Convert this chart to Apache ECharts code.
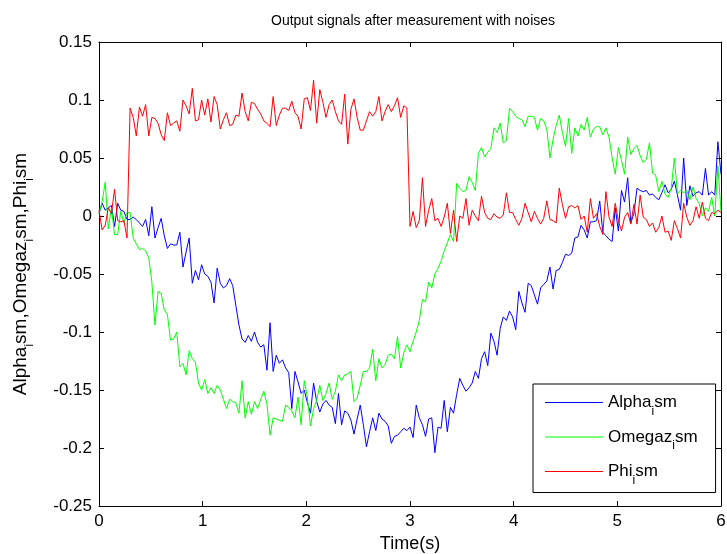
<!DOCTYPE html>
<html>
<head>
<meta charset="utf-8">
<script src="https://cdn.jsdelivr.net/npm/echarts@6/dist/echarts.min.js"></script>
<style>
  html, body { margin: 0; padding: 0; background: #fff; }
  #chart { width: 727px; height: 554px; }
</style>
</head>
<body>
<div id="chart"></div>
<script>
// Sampling grid: t = 0 : 0.03 : 6 (201 samples)
const T_START = 0;
const T_STEP = 0.03;

const alphaIsm = [
  0.002, 0.011, 0.005, 0.007, 0.009, -0.009, 0.011, 0.005, 0.004, -0.003,
  -0.003, -0.001, -0.003, -0.006, -0.009, -0.003, -0.017, 0.008, -0.019, -0.010,
  -0.002, -0.017, -0.028, -0.024, -0.025, -0.025, -0.014, -0.044, -0.031, -0.019,
  -0.058, -0.047, -0.055, -0.042, -0.050, -0.052, -0.057, -0.075, -0.045, -0.058,
  -0.062, -0.060, -0.054, -0.060, -0.077, -0.094, -0.106, -0.109, -0.103, -0.108,
  -0.100, -0.109, -0.113, -0.111, -0.133, -0.092, -0.134, -0.120, -0.127, -0.124,
  -0.131, -0.135, -0.166, -0.134, -0.143, -0.153, -0.150, -0.161, -0.170, -0.144,
  -0.160, -0.169, -0.162, -0.159, -0.163, -0.165, -0.179, -0.153, -0.180, -0.168,
  -0.170, -0.176, -0.188, -0.175, -0.163, -0.180, -0.199, -0.186, -0.174, -0.185,
  -0.170, -0.175, -0.177, -0.181, -0.196, -0.190, -0.189, -0.186, -0.183, -0.185,
  -0.182, -0.191, -0.163, -0.174, -0.180, -0.190, -0.175, -0.174, -0.204, -0.182,
  -0.183, -0.159, -0.186, -0.165, -0.170, -0.154, -0.140, -0.146, -0.151, -0.148,
  -0.144, -0.134, -0.140, -0.123, -0.117, -0.129, -0.101, -0.108, -0.120, -0.097,
  -0.087, -0.090, -0.082, -0.087, -0.098, -0.065, -0.075, -0.083, -0.058, -0.060,
  -0.068, -0.076, -0.062, -0.059, -0.056, -0.044, -0.063, -0.047, -0.046, -0.040,
  -0.033, -0.034, -0.032, -0.019, -0.018, -0.008, -0.012, -0.019, -0.005, -0.005,
  -0.004, 0.013, -0.014, -0.017, -0.020, -0.022, 0.007, -0.013, 0.022, 0.012,
  0.033, -0.006, 0.002, 0.024, 0.022, 0.021, 0.022, 0.018, 0.019, 0.016,
  0.014, 0.020, 0.027, 0.020, 0.023, 0.030, 0.018, 0.005, 0.050, 0.009,
  0.026, 0.017, 0.020, 0.021, 0.018, 0.041, 0.018, 0.021, 0.018, 0.064,
  0.036
];

const omegazIsm = [
  0.002, 0.012, 0.029, -0.011, 0.007, -0.016, -0.016, 0.004, -0.006, 0.003,
  0.003, -0.019, -0.024, -0.029, -0.028, -0.030, -0.036, -0.057, -0.094, -0.065,
  -0.067, -0.081, -0.085, -0.107, -0.106, -0.100, -0.130, -0.127, -0.137, -0.116,
  -0.123, -0.126, -0.144, -0.150, -0.141, -0.153, -0.148, -0.153, -0.146, -0.150,
  -0.158, -0.166, -0.158, -0.160, -0.161, -0.170, -0.142, -0.174, -0.160, -0.171,
  -0.160, -0.166, -0.158, -0.151, -0.162, -0.189, -0.174, -0.175, -0.176, -0.177,
  -0.163, -0.165, -0.168, -0.174, -0.156, -0.180, -0.142, -0.156, -0.181, -0.166,
  -0.159, -0.146, -0.159, -0.153, -0.144, -0.158, -0.151, -0.137, -0.142, -0.137,
  -0.136, -0.134, -0.160, -0.157, -0.146, -0.134, -0.134, -0.131, -0.115, -0.142,
  -0.123, -0.131, -0.128, -0.120, -0.119, -0.123, -0.104, -0.131, -0.118, -0.111,
  -0.117, -0.108, -0.100, -0.090, -0.072, -0.074, -0.057, -0.062, -0.050, -0.045,
  -0.039, -0.030, -0.023, -0.016, -0.022, 0.028, 0.024, 0.021, 0.022, 0.034,
  0.029, 0.022, 0.054, 0.059, 0.051, 0.055, 0.058, 0.076, 0.072, 0.080,
  0.063, 0.065, 0.093, 0.090, 0.086, 0.084, 0.083, 0.077, 0.086, 0.086,
  0.085, 0.074, 0.084, 0.082, 0.075, 0.050, 0.066, 0.078, 0.087, 0.072,
  0.060, 0.084, 0.054, 0.076, 0.069, 0.079, 0.074, 0.085, 0.068, 0.075,
  0.077, 0.077, 0.070, 0.076, 0.068, 0.050, 0.036, 0.059, 0.048, 0.036,
  0.068, 0.053, 0.058, 0.061, 0.052, 0.046, 0.049, 0.063, 0.037, 0.035,
  0.021, 0.030, 0.019, 0.016, 0.024, 0.050, 0.019, 0.022, 0.020, 0.022,
  0.014, 0.025, 0.015, 0.011, 0.000, 0.007, 0.004, 0.016, 0.000, 0.043,
  0.004
];

const phiIsm = [
  0.005, -0.012, -0.008, 0.007, 0.002, 0.023, -0.004, -0.005, -0.004, -0.019,
  0.093, 0.085, 0.069, 0.094, 0.086, 0.096, 0.069, 0.085, 0.084, 0.080,
  0.070, 0.065, 0.089, 0.078, 0.080, 0.082, 0.073, 0.100, 0.095, 0.088,
  0.110, 0.082, 0.083, 0.100, 0.087, 0.101, 0.081, 0.103, 0.096, 0.075,
  0.083, 0.089, 0.078, 0.079, 0.087, 0.086, 0.106, 0.090, 0.082, 0.098,
  0.097, 0.092, 0.088, 0.082, 0.080, 0.077, 0.103, 0.078, 0.087, 0.093,
  0.093, 0.091, 0.099, 0.089, 0.086, 0.075, 0.101, 0.102, 0.091, 0.117,
  0.080, 0.109, 0.098, 0.085, 0.096, 0.100, 0.090, 0.082, 0.079, 0.105,
  0.062, 0.092, 0.101, 0.085, 0.074, 0.074, 0.082, 0.090, 0.086, 0.090,
  0.103, 0.082, 0.090, 0.096, 0.090, 0.095, 0.102, 0.085, 0.095, 0.093,
  -0.009, 0.004, -0.010, -0.004, 0.033, -0.009, 0.005, 0.015, -0.004, -0.002,
  -0.009, -0.001, 0.011, -0.015, 0.005, -0.022, 0.000, -0.002, 0.015, -0.008,
  0.005, 0.000, -0.004, 0.017, 0.003, -0.002, -0.003, 0.002, -0.001, -0.002,
  0.001, 0.020, 0.003, 0.003, -0.003, -0.008, -0.002, 0.011, 0.003, -0.005,
  0.004, -0.002, -0.007, -0.002, 0.013, -0.003, -0.004, -0.006, 0.024, 0.010,
  -0.002, 0.008, 0.009, 0.007, 0.009, -0.003, 0.000, -0.014, 0.015, -0.002,
  0.002, -0.009, -0.016, 0.021, -0.001, -0.009, 0.011, -0.004, -0.013, -0.001,
  0.003, -0.007, 0.010, -0.007, 0.018, -0.001, -0.003, -0.009, -0.006, -0.014,
  -0.010, 0.000, -0.014, -0.013, -0.021, -0.004, -0.011, -0.019, 0.011, -0.001,
  -0.008, -0.004, 0.008, -0.002, 0.012, -0.002, -0.004, 0.003, 0.002, 0.005,
  0.003
];

const seriesNames = ['Alpha_ism', 'Omegaz_ism', 'Phi_ism'];
const seriesColors = ['#0000ff', '#00ff00', '#ff0000'];
const seriesValues = [alphaIsm, omegazIsm, phiIsm];

const FONT = '"Liberation Sans", Arial, Helvetica, sans-serif';

// "Alpha_ism" -> Alpha with a lowered subscript i, then sm
function subMarkup(name) {
  const parts = name.split('_i');
  return '{m|' + parts[0] + '}{sub|i}{m|' + parts[1] + '}';
}
function richStyles(size) {
  return {
    m: { fontSize: size, lineHeight: 30, fontFamily: FONT, color: '#000', verticalAlign: 'middle' },
    sub: { fontSize: 12, lineHeight: 12, fontFamily: FONT, color: '#000', verticalAlign: 'bottom' }
  };
}

function toPoints(values) {
  return values.map((v, i) => [+(T_START + i * T_STEP).toFixed(2), v]);
}

const chart = echarts.init(document.getElementById('chart'), null, { renderer: 'canvas' });

const axisLine = { show: true, onZero: false, lineStyle: { color: '#000', width: 1 } };
const tick = { show: true, inside: true, length: 5, lineStyle: { color: '#000', width: 1 } };

chart.setOption({
  animation: false,
  backgroundColor: '#fff',
  textStyle: { fontFamily: FONT },
  title: {
    text: 'Output signals after measurement with noises',
    left: 271,
    top: 14,
    padding: 0,
    textStyle: { fontSize: 14, fontWeight: 'normal', color: '#000', fontFamily: FONT }
  },
  grid: { left: 99, right: 6, top: 42, bottom: 48, containLabel: false, outerBoundsMode: 'none' },
  legend: {
    orient: 'vertical',
    left: 533,
    top: 384,
    padding: [10, 18, 6, 12],
    itemGap: 11,
    itemWidth: 58,
    itemHeight: 1,
    icon: 'rect',
    backgroundColor: '#fff',
    borderColor: '#000',
    borderWidth: 1,
    borderRadius: 0,
    data: seriesNames.map((name, k) => ({
      name: name,
      icon: 'rect',
      itemStyle: { color: seriesColors[k], opacity: 1 }
    })),
    formatter: subMarkup,
    textStyle: { fontSize: 17, color: '#000', fontFamily: FONT, rich: richStyles(17) }
  },
  xAxis: [
    {
      type: 'value', position: 'bottom', min: 0, max: 6, interval: 1,
      axisLine: axisLine, axisTick: tick, splitLine: { show: false },
      axisLabel: { fontSize: 17, color: '#000', margin: 7, fontFamily: FONT },
      name: 'Time(s)', nameLocation: 'middle', nameGap: 29,
      nameTextStyle: { fontSize: 18, color: '#000', fontFamily: FONT }
    },
    {
      type: 'value', position: 'top', min: 0, max: 6, interval: 1,
      axisLine: axisLine, axisTick: tick, splitLine: { show: false },
      axisLabel: { show: false }
    }
  ],
  yAxis: [
    {
      type: 'value', position: 'left', min: -0.25, max: 0.15, interval: 0.05,
      axisLine: axisLine, axisTick: tick, splitLine: { show: false },
      axisLabel: {
        fontSize: 17, color: '#000', margin: 7, fontFamily: FONT,
        formatter: v => String(+v.toFixed(2))
      },
      name: seriesNames.map(subMarkup).join('{m|,}'),
      nameLocation: 'middle', nameGap: 63, nameRotate: 90,
      nameTextStyle: { fontSize: 19, color: '#000', fontFamily: FONT, rich: richStyles(19) }
    },
    {
      type: 'value', position: 'right', min: -0.25, max: 0.15, interval: 0.05,
      axisLine: axisLine, axisTick: tick, splitLine: { show: false },
      axisLabel: { show: false }
    }
  ],
  series: seriesNames.map((name, k) => ({
    name: name,
    type: 'line',
    xAxisIndex: 0,
    yAxisIndex: 0,
    data: toPoints(seriesValues[k]),
    symbol: 'none',
    showSymbol: false,
    color: seriesColors[k],
    itemStyle: { color: seriesColors[k] },
    lineStyle: { color: seriesColors[k], width: 1 },
    emphasis: { disabled: true }
  }))
});
</script>
</body>
</html>
